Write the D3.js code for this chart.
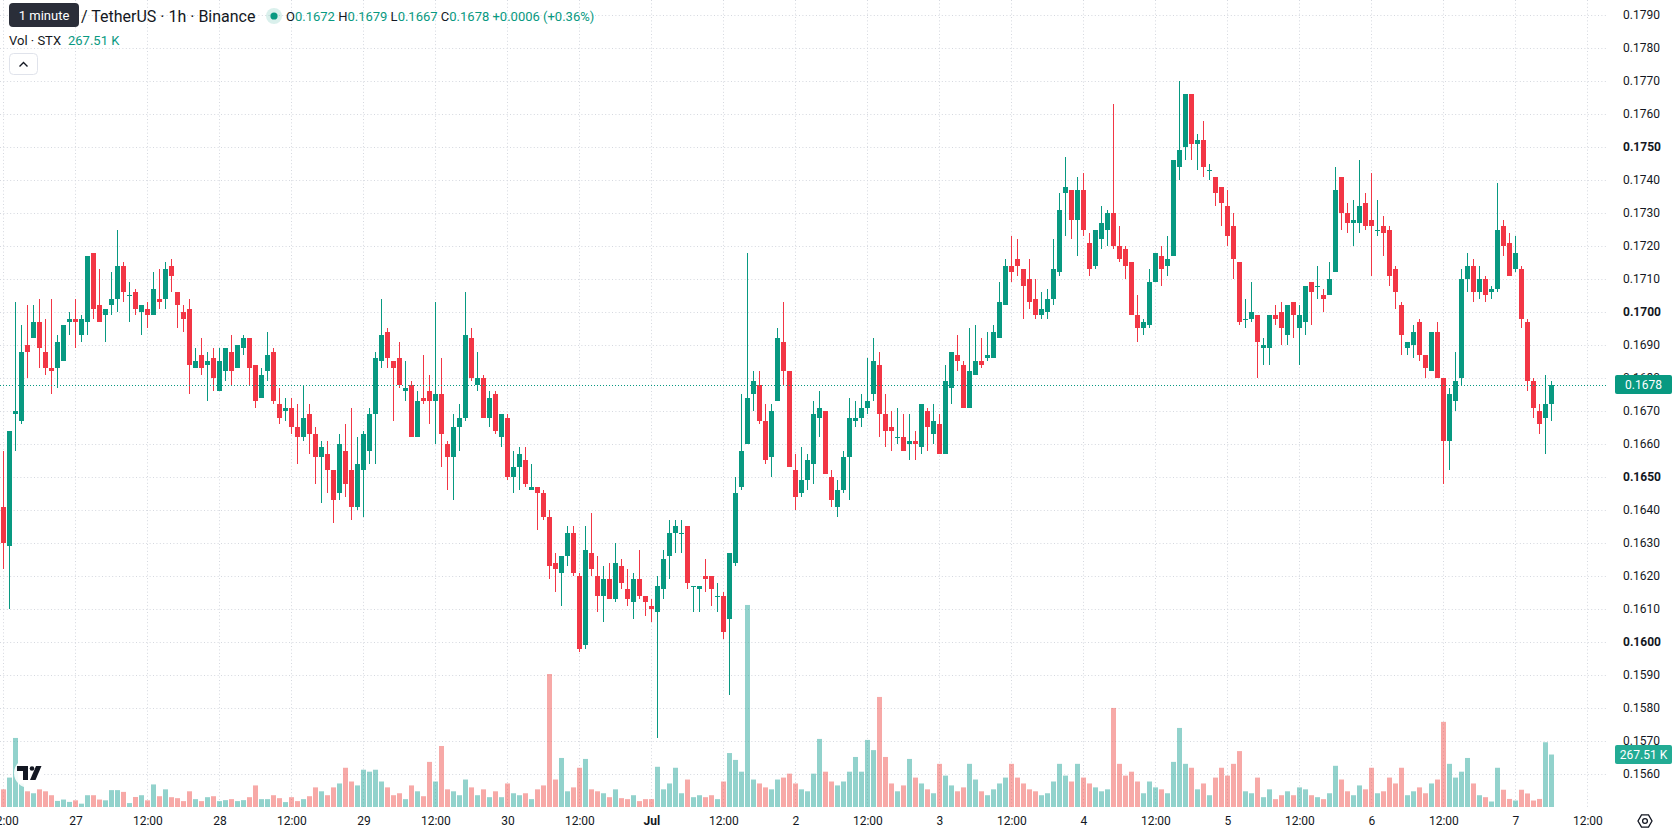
<!DOCTYPE html>
<html>
<head>
<meta charset="utf-8">
<script src="https://cdn.jsdelivr.net/npm/d3@7"></script>
<style>
  body { margin: 0; background: #fff; }
  svg text { font-family: Roboto, "Noto Sans", sans-serif; }
</style>
</head>
<body>
<div id="chart"></div>
<script>
// hourly candles, first one opens 26 Jun 12:00
const opens = [
  0.1641,0.1629,0.1669,0.1667,0.1690,0.1692,0.1697,0.1688,0.1683,0.1683,
  0.1685,0.1697,0.1698,0.1693,0.1697,0.1718,0.1702,0.1699,0.1702,0.1704,
  0.1714,0.1705,0.1706,0.1700,0.1701,0.1699,0.1704,0.1704,0.1714,0.1706,
  0.1700,0.1701,0.1683,0.1687,0.1684,0.1686,0.1676,0.1682,0.1688,0.1683,
  0.1689,0.1692,0.1684,0.1674,0.1682,0.1688,0.1672,0.1670,0.1671,0.1665,
  0.1662,0.1669,0.1663,0.1656,0.1657,0.1652,0.1645,0.1658,0.1652,0.1641,
  0.1652,0.1658,0.1669,0.1685,0.1694,0.1685,0.1686,0.1676,0.1678,0.1662,
  0.1674,0.1676,0.1673,0.1675,0.1660,0.1656,0.1665,0.1668,0.1692,0.1678,
  0.1680,0.1668,0.1675,0.1662,0.1668,0.1650,0.1653,0.1655,0.1646,0.1647,
  0.1645,0.1638,0.1624,0.1621,0.1626,0.1633,0.1620,0.1599,0.1627,0.1620,
  0.1614,0.1619,0.1613,0.1623,0.1616,0.1612,0.1619,0.1614,0.1611,0.1609,
  0.1616,0.1626,0.1633,0.1633,0.1635,0.1617,0.1616,0.1620,0.1620,0.1614,
  0.1614,0.1607,0.1624,0.1647,0.1660,0.1675,0.1678,0.1667,0.1656,0.1673,
  0.1691,0.1682,0.1652,0.1645,0.1649,0.1654,0.1668,0.1670,0.1650,0.1641,
  0.1646,0.1656,0.1667,0.1668,0.1671,0.1675,0.1684,0.1669,0.1665,0.1662,
  0.1662,0.1660,0.1661,0.1659,0.1670,0.1663,0.1666,0.1657,0.1677,0.1687,
  0.1684,0.1671,0.1681,0.1685,0.1686,0.1686,0.1692,0.1702,0.1714,0.1716,
  0.1713,0.1710,0.1704,0.1699,0.1700,0.1704,0.1712,0.1736,0.1737,0.1728,
  0.1737,0.1721,0.1714,0.1722,0.1725,0.1730,0.1720,0.1719,0.1715,0.1699,
  0.1695,0.1696,0.1709,0.1717,0.1714,0.1717,0.1744,0.1750,0.1766,0.1751,
  0.1752,0.1743,0.1741,0.1738,0.1732,0.1726,0.1715,0.1698,0.1698,0.1699,
  0.1689,0.1689,0.1699,0.1700,0.1693,0.1703,0.1695,0.1697,0.1709,0.1708,
  0.1705,0.1705,0.1712,0.1741,0.1730,0.1727,0.1727,0.1733,0.1728,0.1725,
  0.1726,0.1725,0.1713,0.1702,0.1689,0.1690,0.1697,0.1687,0.1682,0.1694,
  0.1680,0.1661,0.1673,0.1680,0.1710,0.1714,0.1706,0.1710,0.1706,0.1707,
  0.1726,0.1721,0.1713,0.1713,0.1697,0.1679,0.1670,0.1668,0.1672
];
const highs = [
  0.1658,0.1664,0.1703,0.1696,0.1702,0.1702,0.1704,0.1698,0.1704,0.1693,
  0.1696,0.1700,0.1704,0.1699,0.1717,0.1718,0.1713,0.1701,0.1712,0.1725,
  0.1715,0.1709,0.1707,0.1702,0.1703,0.1712,0.1713,0.1715,0.1716,0.1706,
  0.1702,0.1704,0.1689,0.1692,0.1688,0.1689,0.1689,0.1689,0.1693,0.1690,
  0.1693,0.1692,0.1684,0.1683,0.1694,0.1689,0.1677,0.1674,0.1674,0.1672,
  0.1678,0.1672,0.1665,0.1661,0.1661,0.1652,0.1663,0.1666,0.1671,0.1662,
  0.1664,0.1671,0.1688,0.1704,0.1695,0.1685,0.1691,0.1685,0.1679,0.1676,
  0.1687,0.1681,0.1703,0.1686,0.1661,0.1669,0.1672,0.1706,0.1695,0.1688,
  0.1681,0.1676,0.1676,0.1669,0.1669,0.1658,0.1659,0.1659,0.1654,0.1647,
  0.1646,0.1640,0.1627,0.1626,0.1635,0.1635,0.1621,0.1635,0.1639,0.1626,
  0.1623,0.1624,0.1630,0.1625,0.1622,0.1621,0.1628,0.1614,0.1613,0.1620,
  0.1628,0.1637,0.1637,0.1637,0.1635,0.1617,0.1617,0.1625,0.1620,0.1618,
  0.1615,0.1627,0.1650,0.1675,0.1718,0.1682,0.1682,0.1672,0.1672,0.1695,
  0.1703,0.1682,0.1657,0.1659,0.1657,0.1673,0.1676,0.1670,0.1652,0.1649,
  0.1658,0.1674,0.1673,0.1675,0.1686,0.1692,0.1688,0.1675,0.1670,0.1671,
  0.1669,0.1669,0.1664,0.1672,0.1671,0.1672,0.1669,0.1684,0.1688,0.1693,
  0.1685,0.1695,0.1696,0.1692,0.1694,0.1696,0.1709,0.1716,0.1723,0.1722,
  0.1713,0.1716,0.1710,0.1706,0.1707,0.1722,0.1736,0.1747,0.1737,0.1741,
  0.1742,0.1724,0.1725,0.1732,0.1731,0.1763,0.1726,0.1720,0.1715,0.1705,
  0.1698,0.1713,0.1718,0.1720,0.1723,0.1746,0.1770,0.1766,0.1766,0.1754,
  0.1758,0.1745,0.1741,0.1738,0.1737,0.1730,0.1715,0.1704,0.1709,0.1699,
  0.1692,0.1699,0.1702,0.1703,0.1702,0.1703,0.1702,0.1708,0.1709,0.1714,
  0.1707,0.1715,0.1744,0.1741,0.1733,0.1734,0.1746,0.1736,0.1742,0.1734,
  0.1729,0.1726,0.1714,0.1703,0.1691,0.1696,0.1698,0.1687,0.1694,0.1697,
  0.1680,0.1677,0.1688,0.1713,0.1718,0.1716,0.1714,0.1711,0.1708,0.1739,
  0.1728,0.1724,0.1723,0.1714,0.1698,0.1680,0.1672,0.1681,0.1679
];
const lows = [
  0.1622,0.1610,0.1658,0.1666,0.1680,0.1692,0.1683,0.1681,0.1675,0.1677,
  0.1685,0.1693,0.1689,0.1691,0.1693,0.1698,0.1697,0.1691,0.1699,0.1700,
  0.1703,0.1697,0.1699,0.1693,0.1695,0.1699,0.1701,0.1701,0.1706,0.1695,
  0.1694,0.1675,0.1683,0.1681,0.1673,0.1676,0.1676,0.1679,0.1678,0.1683,
  0.1687,0.1678,0.1671,0.1674,0.1679,0.1672,0.1666,0.1667,0.1663,0.1654,
  0.1661,0.1657,0.1648,0.1642,0.1645,0.1636,0.1643,0.1644,0.1637,0.1640,
  0.1638,0.1654,0.1654,0.1683,0.1683,0.1667,0.1677,0.1673,0.1662,0.1662,
  0.1672,0.1666,0.1660,0.1653,0.1646,0.1643,0.1658,0.1667,0.1679,0.1676,
  0.1668,0.1665,0.1663,0.1659,0.1649,0.1645,0.1646,0.1647,0.1646,0.1634,
  0.1637,0.1619,0.1615,0.1611,0.1623,0.1620,0.1597,0.1598,0.1620,0.1609,
  0.1606,0.1613,0.1612,0.1616,0.1611,0.1607,0.1613,0.1608,0.1606,0.1571,
  0.1613,0.1619,0.1627,0.1627,0.1616,0.1609,0.1609,0.1615,0.1611,0.1609,
  0.1601,0.1584,0.1623,0.1646,0.1660,0.1670,0.1666,0.1654,0.1650,0.1673,
  0.1678,0.1653,0.1640,0.1644,0.1646,0.1648,0.1662,0.1651,0.1641,0.1638,
  0.1645,0.1643,0.1665,0.1665,0.1669,0.1673,0.1662,0.1659,0.1658,0.1660,
  0.1658,0.1655,0.1655,0.1657,0.1658,0.1660,0.1657,0.1657,0.1672,0.1682,
  0.1671,0.1671,0.1681,0.1683,0.1685,0.1686,0.1692,0.1702,0.1709,0.1711,
  0.1698,0.1701,0.1698,0.1698,0.1698,0.1702,0.1711,0.1723,0.1722,0.1717,
  0.1723,0.1711,0.1713,0.1719,0.1720,0.1719,0.1715,0.1710,0.1699,0.1691,
  0.1693,0.1695,0.1709,0.1708,0.1711,0.1717,0.1740,0.1746,0.1746,0.1743,
  0.1741,0.1740,0.1732,0.1726,0.1720,0.1710,0.1696,0.1695,0.1697,0.1680,
  0.1684,0.1684,0.1696,0.1690,0.1690,0.1692,0.1684,0.1693,0.1696,0.1704,
  0.1700,0.1705,0.1712,0.1725,0.1724,0.1720,0.1724,0.1725,0.1711,0.1723,
  0.1717,0.1708,0.1701,0.1687,0.1687,0.1686,0.1685,0.1680,0.1682,0.1680,
  0.1648,0.1652,0.1670,0.1678,0.1706,0.1703,0.1704,0.1703,0.1704,0.1706,
  0.1717,0.1711,0.1712,0.1695,0.1676,0.1668,0.1663,0.1657,0.1667
];
const closes = [
  0.1630,0.1664,0.1670,0.1688,0.1688,0.1697,0.1689,0.1683,0.1682,0.1691,
  0.1696,0.1698,0.1697,0.1698,0.1717,0.1701,0.1697,0.1701,0.1704,0.1714,
  0.1706,0.1705,0.1701,0.1702,0.1699,0.1707,0.1703,0.1713,0.1711,0.1702,
  0.1698,0.1684,0.1685,0.1683,0.1685,0.1680,0.1685,0.1689,0.1682,0.1690,
  0.1692,0.1683,0.1673,0.1681,0.1687,0.1673,0.1668,0.1671,0.1665,0.1662,
  0.1668,0.1663,0.1656,0.1659,0.1652,0.1643,0.1660,0.1648,0.1641,0.1654,
  0.1663,0.1669,0.1686,0.1693,0.1686,0.1683,0.1678,0.1677,0.1662,0.1673,
  0.1673,0.1673,0.1675,0.1663,0.1656,0.1665,0.1668,0.1693,0.1680,0.1680,
  0.1668,0.1674,0.1664,0.1669,0.1650,0.1653,0.1657,0.1648,0.1647,0.1645,
  0.1638,0.1623,0.1622,0.1626,0.1633,0.1621,0.1598,0.1628,0.1622,0.1614,
  0.1619,0.1613,0.1624,0.1618,0.1613,0.1619,0.1614,0.1612,0.1610,0.1617,
  0.1625,0.1633,0.1635,0.1633,0.1618,0.1617,0.1617,0.1619,0.1616,0.1614,
  0.1603,0.1627,0.1645,0.1658,0.1674,0.1679,0.1667,0.1655,0.1670,0.1692,
  0.1682,0.1653,0.1644,0.1649,0.1655,0.1669,0.1671,0.1651,0.1643,0.1646,
  0.1656,0.1668,0.1668,0.1671,0.1673,0.1685,0.1669,0.1664,0.1664,0.1662,
  0.1658,0.1661,0.1660,0.1672,0.1665,0.1667,0.1657,0.1679,0.1688,0.1685,
  0.1671,0.1682,0.1685,0.1684,0.1687,0.1694,0.1703,0.1714,0.1712,0.1714,
  0.1708,0.1703,0.1699,0.1701,0.1704,0.1713,0.1731,0.1738,0.1728,0.1737,
  0.1725,0.1713,0.1725,0.1727,0.1730,0.1720,0.1716,0.1714,0.1699,0.1695,
  0.1697,0.1709,0.1718,0.1713,0.1716,0.1746,0.1749,0.1766,0.1751,0.1752,
  0.1744,0.1743,0.1736,0.1733,0.1723,0.1716,0.1697,0.1698,0.1700,0.1691,
  0.1690,0.1699,0.1698,0.1695,0.1702,0.1699,0.1699,0.1708,0.1706,0.1708,
  0.1704,0.1710,0.1737,0.1730,0.1727,0.1728,0.1732,0.1726,0.1726,0.1725,
  0.1724,0.1711,0.1706,0.1693,0.1691,0.1694,0.1687,0.1683,0.1694,0.1680,
  0.1661,0.1675,0.1679,0.1710,0.1714,0.1706,0.1710,0.1705,0.1707,0.1725,
  0.1720,0.1711,0.1718,0.1698,0.1679,0.1671,0.1666,0.1672,0.1678
];
// volume in thousands of STX
const volumes = [
  90,150,352,120,80,70,90,80,60,31,
  38,26,34,17,60,60,38,34,86,86,
  77,20,51,60,34,115,55,90,50,45,
  30,80,40,30,50,55,30,35,40,30,
  35,50,110,40,40,60,45,25,50,30,
  40,55,100,80,60,100,120,200,130,110,
  190,180,190,130,100,60,70,40,110,80,
  55,230,130,311,90,80,60,140,100,60,
  90,50,80,50,120,70,60,70,40,90,
  110,678,140,250,80,100,200,245,90,80,
  70,50,90,45,40,60,30,40,40,205,
  90,120,200,70,140,50,60,50,60,40,
  130,275,240,180,1030,140,120,100,90,140,
  150,170,120,90,80,170,347,180,130,110,
  130,180,255,180,342,290,561,255,120,80,
  110,245,150,120,90,70,220,160,110,80,
  100,220,140,80,60,90,120,150,220,150,
  120,90,80,60,70,130,220,160,130,220,
  150,120,100,80,90,505,220,160,180,130,
  70,130,100,90,70,230,403,220,200,90,
  120,60,150,200,160,220,285,80,70,150,
  50,90,40,60,80,60,100,90,60,50,
  40,70,210,140,80,60,110,90,200,70,
  80,150,120,200,60,80,100,70,120,140,
  434,220,150,180,250,120,60,50,28,200,
  88,41,33,88,69,33,41,330,267.51
];

const priceTicks = d3.range(24).map(i => +(0.1560 + i * 0.001).toFixed(4));
const majorPriceTicks = [0.1600, 0.1650, 0.1700, 0.1750];
const timeTickLabels = ["12:00","27","12:00","28","12:00","29","12:00","30","12:00","Jul","12:00",
  "2","12:00","3","12:00","4","12:00","5","12:00","6","12:00","7","12:00"];

const lastPrice = 0.1678;
const lastVolume = "267.51 K";

const W = 1678, H = 835;
const plotRight = 1607, plotBottom = 808, volBase = 807;
const upColor = "#089981", downColor = "#f23645";
const upVol = "rgba(38,166,154,0.5)", downVol = "rgba(239,83,80,0.5)";
const textColor = "#131722";

const t0 = new Date(Date.UTC(2023, 5, 26, 12));
const t1 = new Date(Date.UTC(2023, 6, 7, 12));
const times = opens.map((d, i) => d3.utcHour.offset(t0, i));
const timeTicks = d3.utcHour.every(12).range(t0, d3.utcHour.offset(t1, 1));

const candles = times.map((t, i) => ({
  t: t, o: opens[i], h: highs[i], l: lows[i], c: closes[i], v: volumes[i]
}));

const x = d3.scaleUtc().domain([t0, t1]).range([3.4, 1587.4]);
const y = d3.scaleLinear().domain([0.1560, 0.1790]).range([774, 15]);
const yVol = d3.scaleLinear().domain([0, 1040]).range([volBase, volBase - 204]);

const svg = d3.select("#chart").append("svg")
    .attr("width", W)
    .attr("height", H)
    .style("display", "block");

svg.append("rect").attr("width", W).attr("height", H).attr("fill", "#fff");

// dotted grid
const grid = svg.append("g");
grid.selectAll("line.h")
    .data(priceTicks)
  .enter().append("line")
    .attr("x1", 0).attr("x2", plotRight)
    .attr("y1", d => Math.round(y(d)) + 0.5)
    .attr("y2", d => Math.round(y(d)) + 0.5)
    .attr("stroke", "#d5d8df")
    .attr("stroke-dasharray", "1,2.4");
grid.selectAll("line.v")
    .data(timeTicks)
  .enter().append("line")
    .attr("x1", d => Math.round(x(d)) + 0.5)
    .attr("x2", d => Math.round(x(d)) + 0.5)
    .attr("y1", 0).attr("y2", plotBottom)
    .attr("stroke", "#d5d8df")
    .attr("stroke-dasharray", "1,2.4");

const cx = d => Math.round(x(d.t));
const isUp = d => d.c >= d.o;

// volume bars
svg.append("g").selectAll("rect")
    .data(candles)
  .enter().append("rect")
    .attr("x", d => cx(d) - 2)
    .attr("width", 5)
    .attr("y", d => yVol(d.v))
    .attr("height", d => volBase - yVol(d.v))
    .attr("fill", d => isUp(d) ? upVol : downVol);

// candles
const cg = svg.append("g");
cg.selectAll("rect.wick")
    .data(candles)
  .enter().append("rect")
    .attr("x", d => cx(d))
    .attr("width", 1)
    .attr("y", d => Math.round(y(d.h)))
    .attr("height", d => Math.max(1, Math.round(y(d.l)) - Math.round(y(d.h))))
    .attr("fill", d => isUp(d) ? upColor : downColor);
cg.selectAll("rect.body")
    .data(candles)
  .enter().append("rect")
    .attr("x", d => cx(d) - 2)
    .attr("width", 5)
    .attr("y", d => Math.round(y(Math.max(d.o, d.c))))
    .attr("height", d => Math.max(1, Math.round(y(Math.min(d.o, d.c))) - Math.round(y(Math.max(d.o, d.c)))))
    .attr("fill", d => isUp(d) ? upColor : downColor);

// last price line
svg.append("line")
    .attr("x1", 0).attr("x2", plotRight)
    .attr("y1", Math.round(y(lastPrice)) + 0.5)
    .attr("y2", Math.round(y(lastPrice)) + 0.5)
    .attr("stroke", upColor)
    .attr("stroke-dasharray", "1,2");

// price axis
const yAxis = svg.append("g")
    .attr("transform", "translate(1623,0)")
    .call(d3.axisRight(y).tickValues(priceTicks).tickFormat(d3.format(".4f")).tickSize(0).tickPadding(0));
yAxis.select(".domain").remove();
yAxis.selectAll("text")
    .attr("fill", textColor)
    .style("font-size", "12px")
    .style("font-weight", d => majorPriceTicks.includes(d) ? 700 : 400);

// time axis
const xAxis = svg.append("g")
    .attr("transform", "translate(0," + plotBottom + ")")
    .call(d3.axisBottom(x).tickValues(timeTicks).tickFormat((d, i) => timeTickLabels[i]).tickSize(0).tickPadding(8));
xAxis.select(".domain").remove();
xAxis.selectAll("text")
    .attr("fill", textColor)
    .style("font-size", "12px")
    .style("font-weight", (d, i) => timeTickLabels[i] === "Jul" ? 700 : 400);

// price / volume tags on the scale
const tags = [
  {y: y(lastPrice), text: d3.format(".4f")(lastPrice), fill: upColor},
  {y: yVol(267.51), text: lastVolume, fill: "#22ab94"}
];
const tg = svg.append("g").selectAll("g").data(tags).enter().append("g");
tg.append("rect")
    .attr("x", 1615).attr("width", 57)
    .attr("y", d => d.y - 9.5).attr("height", 19)
    .attr("rx", 2)
    .attr("fill", d => d.fill);
tg.append("text")
    .attr("x", 1643.5).attr("y", d => d.y + 4.3)
    .attr("text-anchor", "middle")
    .attr("fill", "#fff")
    .style("font-size", "12px")
    .text(d => d.text);

// settings icon bottom right
const hex = d3.range(6).map(k => {
  const a = Math.PI / 3 * k;
  return [1645 + 7 * Math.cos(a), 821 + 7 * Math.sin(a)];
});
svg.append("polygon").attr("points", hex.map(p => p.join(",")).join(" "))
    .attr("fill", "none").attr("stroke", textColor).attr("stroke-width", 1.3);
svg.append("circle").attr("cx", 1645).attr("cy", 821).attr("r", 2.4)
    .attr("fill", "none").attr("stroke", textColor).attr("stroke-width", 1.3);

// TradingView mark
const logo = svg.append("g");
logo.append("circle").attr("cx", 29).attr("cy", 773).attr("r", 15).attr("fill", "rgba(255,255,255,0.9)");
logo.append("path").attr("d", "M17,766 h11 v14 h-5 v-9 h-6 z").attr("fill", textColor);
logo.append("circle").attr("cx", 32).attr("cy", 768.5).attr("r", 2.3).attr("fill", textColor);
logo.append("path").attr("d", "M36,766 h5.5 l-6,14 h-5.5 z").attr("fill", textColor);

// legend
const legend = svg.append("g");
legend.append("rect")
    .attr("x", 9).attr("y", 3).attr("width", 70).attr("height", 24).attr("rx", 4)
    .attr("fill", "#2a2e39");
legend.append("text")
    .attr("x", 44).attr("y", 19.5).attr("text-anchor", "middle")
    .attr("fill", "#fff").style("font-size", "13px")
    .text("1 minute");
legend.append("text")
    .attr("x", 81).attr("y", 21.5)
    .attr("fill", textColor).style("font-size", "16px")
    .text("/ TetherUS · 1h · Binance");
legend.append("circle").attr("cx", 274).attr("cy", 16).attr("r", 8).attr("fill", "rgba(8,153,129,0.15)");
legend.append("circle").attr("cx", 274).attr("cy", 16).attr("r", 3.6).attr("fill", upColor);

const ohlc = [
  {k: "O", v: "0.1672"},
  {k: " H", v: "0.1679"},
  {k: " L", v: "0.1667"},
  {k: " C", v: "0.1678"}
];
const ohlcText = legend.append("text")
    .attr("x", 286).attr("y", 20.5)
    .style("font-size", "13px")
    .attr("xml:space", "preserve");
ohlc.forEach(d => {
  ohlcText.append("tspan").attr("fill", textColor).text(d.k);
  ohlcText.append("tspan").attr("fill", upColor).text(d.v);
});
ohlcText.append("tspan").attr("fill", upColor).text(" +0.0006 (+0.36%)");

legend.append("text")
    .attr("x", 9).attr("y", 45)
    .attr("fill", textColor).style("font-size", "13px")
    .text("Vol · STX");
legend.append("text")
    .attr("x", 68).attr("y", 45)
    .attr("fill", upColor).style("font-size", "13px")
    .text(lastVolume);

legend.append("rect")
    .attr("x", 9.5).attr("y", 53.5).attr("width", 28).attr("height", 21).attr("rx", 4)
    .attr("fill", "#fff").attr("stroke", "#e0e3eb");
legend.append("path")
    .attr("d", "M19.5,66.5 L23.5,62.5 L27.5,66.5")
    .attr("fill", "none").attr("stroke", textColor).attr("stroke-width", 1.4);
</script>
</body>
</html>
